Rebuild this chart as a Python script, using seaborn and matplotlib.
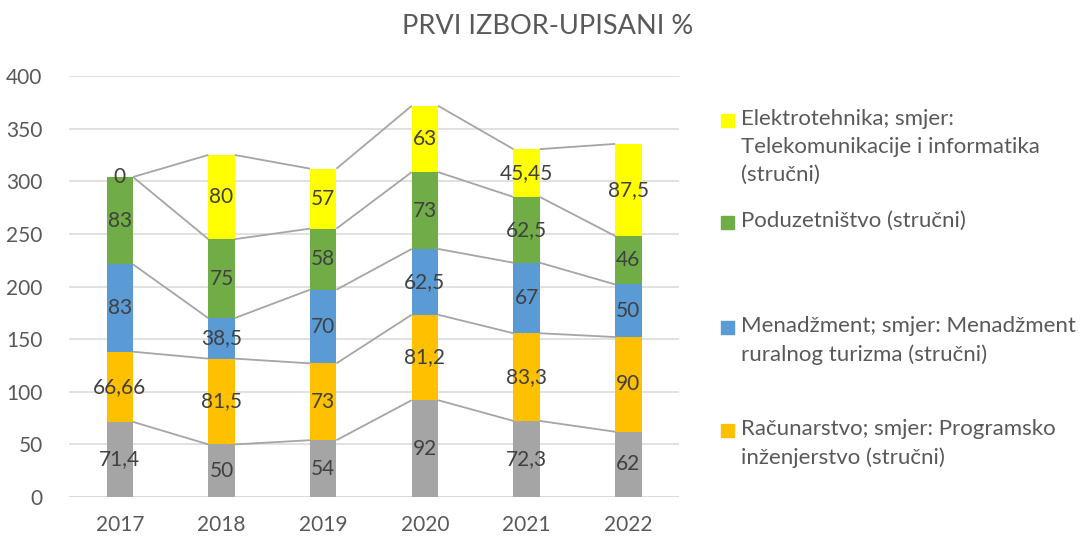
import numpy as np
import pandas as pd
import seaborn as sns
import matplotlib.pyplot as plt
from matplotlib.patches import Rectangle

sns.set_theme(style="white")
plt.rcParams['font.family'] = ['Lato', 'DejaVu Sans']

years = ["2017", "2018", "2019", "2020", "2021", "2022"]
grey_vals = [71.4, 50, 54, 92, 72.3, 62]
racunarstvo = [66.66, 81.5, 73, 81.2, 83.3, 90]
menadzment = [83, 38.5, 70, 62.5, 67, 50]
poduzetnistvo = [83, 75, 58, 73, 62.5, 46]
elektrotehnika = [0, 80, 57, 63, 45.45, 87.5]

series = [grey_vals, racunarstvo, menadzment, poduzetnistvo, elektrotehnika]
colors = ["#A5A5A5", "#FFC000", "#5B9BD5", "#70AD47", "#FFFF00"]
legend_labels = [
    "Elektrotehnika; smjer:\nTelekomunikacije i informatika\n(stručni)",
    "Poduzetništvo (stručni)",
    "Menadžment; smjer: Menadžment\nruralnog turizma (stručni)",
    "Računarstvo; smjer: Programsko\ninženjerstvo (stručni)",
]
legend_colors = ["#FFFF00", "#70AD47", "#5B9BD5", "#FFC000"]

vals = np.array(series, dtype=float)
cum = np.cumsum(vals, axis=0)
bottoms = cum - vals

fig = plt.figure(figsize=(10.81, 5.40), dpi=100)
ax = fig.add_axes([0.0638, 0.0796, 0.5645, 0.7796])

bw = 0.26
# draw cumulative bars from top down so lower segments cover
for i in range(len(series) - 1, -1, -1):
    df = pd.DataFrame({"year": years, "v": cum[i]})
    sns.barplot(data=df, x="year", y="v", color=colors[i], width=bw,
                saturation=1, ax=ax, zorder=2, edgecolor="none", linewidth=0)

# series lines
for i in range(len(series)):
    for j in range(len(years) - 1):
        ax.plot([j + bw / 2, j + 1 - bw / 2], [cum[i][j], cum[i][j + 1]],
                color="#A5A5A5", lw=1.3, zorder=3, solid_capstyle="butt")

# labels
def fmt(v):
    s = ("%.2f" % v).rstrip("0").rstrip(".")
    return s.replace(".", ",")

for i in range(len(series)):
    for j in range(len(years)):
        y = bottoms[i][j] + vals[i][j] / 2
        ax.text(j, y, fmt(vals[i][j]), ha="center", va="center",
                fontsize=15, color="#404040", zorder=4)

ax.set_ylim(0, 400)
ax.set_xlim(-0.5, 5.5)
ax.set_yticks(range(0, 401, 50))
ax.yaxis.grid(True, color="#D9D9D9", lw=1.1, zorder=0)
ax.set_axisbelow(True)
for s in ax.spines.values():
    s.set_visible(False)
ax.axhline(0, color="#D9D9D9", lw=1.1, zorder=1)
ax.set_xlabel("")
ax.set_ylabel("")
ax.tick_params(axis="y", length=0, pad=19, labelsize=15, labelcolor="#595959")
ax.tick_params(axis="x", length=0, pad=13, labelsize=15, labelcolor="#595959")

fig.text(0.507, 0.95, "PRVI IZBOR-UPISANI %", ha="center", va="center",
         fontsize=19.5, color="#595959")

# legend
legend_y = [120, 222, 327, 430]
for lab, col, yp in zip(legend_labels, legend_colors, legend_y):
    yf = 1 - yp / 540
    fig.patches.append(Rectangle((721 / 1081, yf - 6.5 / 540), 13 / 1081, 13 / 540,
                                 transform=fig.transFigure, color=col))
    fig.text(741 / 1081, yf + 11 / 540, lab, ha="left", va="top", fontsize=16,
             color="#595959", linespacing=1.5)

fig.savefig("out.png", dpi=100)
